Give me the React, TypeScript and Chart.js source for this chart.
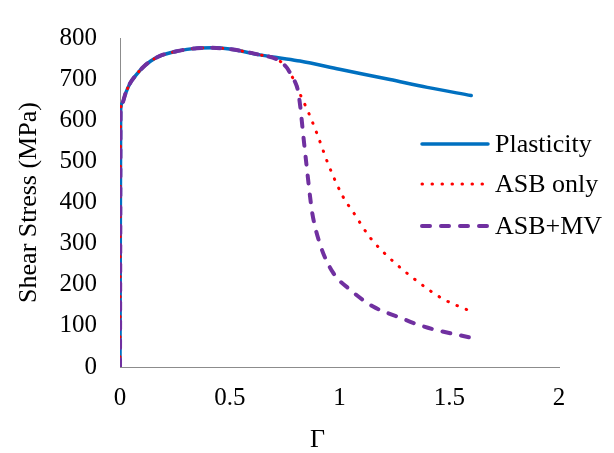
import React, { useEffect, useRef } from 'react';
import { Chart, registerables } from 'chart.js';

Chart.register(...registerables);

// ---- data ----
const xTicks = [0, 0.5, 1, 1.5, 2];
const yTicks = [0, 100, 200, 300, 400, 500, 600, 700, 800];

const seriesNames = ['Plasticity', 'ASB only', 'ASB+MV'];

const plasticityGamma = [0, 0.003, 0.01, 0.025, 0.046, 0.07, 0.105, 0.14, 0.18, 0.26, 0.35, 0.42, 0.5, 0.638, 0.72, 0.82, 1.0, 1.23, 1.4, 1.6];
const plasticityStress = [0, 625, 642, 665, 690, 708, 729, 744, 756, 768, 775, 776, 773, 759, 752, 744, 724, 699, 680, 660];

const asbOnlyGamma = [0, 0.003, 0.01, 0.025, 0.046, 0.07, 0.105, 0.14, 0.18, 0.26, 0.35, 0.42, 0.5, 0.638, 0.715, 0.76, 0.784, 0.8, 0.82, 0.857, 0.902, 0.948, 1.016, 1.062, 1.139, 1.23, 1.358, 1.47, 1.6];
const asbOnlyStress = [0, 625, 642, 665, 690, 708, 729, 744, 756, 768, 775, 776, 773, 759, 748, 728, 706, 690, 664, 621, 561, 494, 414, 377, 315, 264, 207, 166, 135];

const asbMvGamma = [0, 0.003, 0.01, 0.025, 0.046, 0.07, 0.105, 0.14, 0.18, 0.26, 0.35, 0.42, 0.5, 0.638, 0.715, 0.76, 0.784, 0.8, 0.811, 0.822, 0.834, 0.852, 0.866, 0.875, 0.911, 0.97, 1.048, 1.153, 1.276, 1.358, 1.426, 1.6];
const asbMvStress = [0, 625, 642, 665, 690, 708, 729, 744, 756, 768, 775, 776, 773, 759, 748, 728, 706, 690, 671, 630, 568, 480, 414, 377, 299, 230, 188, 147, 120, 103, 92, 71];

const xTitle = 'Γ';
const yTitle = 'Shear Stress (MPa)';

const toPoints = (xs: number[], ys: number[]) => xs.map((x, i) => ({ x, y: ys[i] }));

const FONT = '"Liberation Serif", "Times New Roman", serif';

const customLegend = {
  id: 'customLegend',
  afterDraw(chart: any) {
    const ctx = chart.ctx as CanvasRenderingContext2D;
    const rows = [144, 184, 226];
    const x0 = 422;
    const x1 = 488;
    ctx.save();
    chart.data.datasets.forEach((ds: any, i: number) => {
      const y = rows[i];
      ctx.beginPath();
      ctx.strokeStyle = ds.borderColor;
      ctx.lineWidth = ds.borderWidth;
      ctx.lineCap = ds.borderCapStyle || 'butt';
      ctx.setLineDash(ds.borderDash || []);
      ctx.moveTo(x0, y);
      ctx.lineTo(x1, y);
      ctx.stroke();
      ctx.setLineDash([]);
      ctx.fillStyle = '#000000';
      ctx.font = `26px ${FONT}`;
      ctx.textAlign = 'left';
      ctx.textBaseline = 'middle';
      ctx.fillText(ds.label, 495, y + 1);
    });
    // x axis title
    const xs = chart.scales.x;
    ctx.font = `26px ${FONT}`;
    ctx.textAlign = 'center';
    ctx.textBaseline = 'middle';
    ctx.fillStyle = '#000000';
    ctx.fillText(xTitle, xs.getPixelForValue(0.9), 440);
    ctx.restore();
  },
};

export default function App() {
  const ref = useRef<HTMLCanvasElement | null>(null);

  useEffect(() => {
    if (!ref.current) return;
    const chart = new Chart(ref.current, {
      type: 'scatter',
      data: {
        datasets: [
          {
            label: seriesNames[0],
            data: toPoints(plasticityGamma, plasticityStress),
            showLine: true,
            borderColor: '#0070C0',
            borderWidth: 3.5,
            borderCapStyle: 'round',
            pointRadius: 0,
            cubicInterpolationMode: 'monotone',
            order: 2,
          },
          {
            label: seriesNames[1],
            data: toPoints(asbOnlyGamma, asbOnlyStress),
            showLine: true,
            borderColor: '#FF0000',
            borderWidth: 3,
            borderCapStyle: 'round',
            borderDash: [0.5, 9.5],
            pointRadius: 0,
            cubicInterpolationMode: 'monotone',
            order: 1,
          },
          {
            label: seriesNames[2],
            data: toPoints(asbMvGamma, asbMvStress),
            showLine: true,
            borderColor: '#7030A0',
            borderWidth: 4,
            borderCapStyle: 'round',
            borderDash: [8, 11],
            pointRadius: 0,
            cubicInterpolationMode: 'monotone',
            order: 0,
          },
        ] as any,
      },
      options: {
        animation: false,
        responsive: false,
        maintainAspectRatio: false,
        layout: { padding: { left: 0, right: 55, top: 19, bottom: 0 } },
        plugins: {
          legend: { display: false },
          tooltip: { enabled: false },
        },
        scales: {
          x: {
            type: 'linear',
            min: xTicks[0],
            max: xTicks[xTicks.length - 1],
            afterBuildTicks: (scale: any) => {
              scale.ticks = xTicks.map((v) => ({ value: v }));
            },
            afterFit: (scale: any) => {
              scale.height = 86;
            },
            grid: { display: false, drawTicks: false },
            border: { display: true, color: '#8C8C8C', width: 1 },
            ticks: {
              color: '#000000',
              font: { family: FONT, size: 25 },
              padding: 16,
              maxRotation: 0,
              autoSkip: false,
              callback: (v: any) => String(v),
            },
            title: { display: false },
          },
          y: {
            type: 'linear',
            min: yTicks[0],
            max: yTicks[yTicks.length - 1],
            afterBuildTicks: (scale: any) => {
              scale.ticks = yTicks.map((v) => ({ value: v }));
            },
            afterFit: (scale: any) => {
              scale.width = 120;
            },
            grid: { display: false, drawTicks: false },
            border: { display: true, color: '#8C8C8C', width: 1 },
            ticks: {
              color: '#000000',
              font: { family: FONT, size: 25 },
              padding: 23,
              autoSkip: false,
              callback: (v: any) => String(v),
            },
            title: {
              display: true,
              text: yTitle,
              color: '#000000',
              font: { family: FONT, size: 26, lineHeight: 1 },
              padding: { top: 16, bottom: 0 },
            },
          },
        },
      } as any,
      plugins: [customLegend],
    });
    return () => chart.destroy();
  }, []);

  return (
    <div style={{ position: 'fixed', left: 0, top: 0, width: 614, height: 453, background: '#ffffff' }}>
      <canvas ref={ref} width={614} height={453} style={{ width: 614, height: 453, display: 'block' }} />
    </div>
  );
}
